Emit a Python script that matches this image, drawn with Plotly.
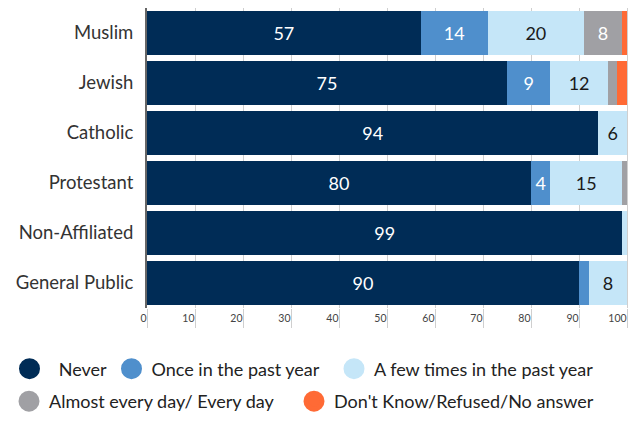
import plotly.graph_objects as go

categories = ["Muslim", "Jewish", "Catholic", "Protestant", "Non-Affiliated", "General Public"]
series_names = ["Never", "Once in the past year", "A few times in the past year",
                "Almost every day/ Every day", "Don't Know/Refused/No answer"]
never = [57, 75, 94, 80, 99, 90]
once = [14, 9, 0, 4, 0, 2]
few_times = [20, 12, 6, 15, 1, 8]
every_day = [8, 2, 0, 1, 0, 0]
dont_know = [1, 2, 0, 0, 0, 0]
x_ticks = [0, 10, 20, 30, 40, 50, 60, 70, 80, 90, 100]

series_values = [never, once, few_times, every_day, dont_know]
colors = ["#002C56", "#4F8FCC", "#C5E6F8", "#A0A0A4", "#FF6A35"]
text_colors = ["#FFFFFF", "#FFFFFF", "#1A1A1A", "#FFFFFF", "#FFFFFF"]

FONT = "Lato, 'Open Sans', sans-serif"

fig = go.Figure()
for name, vals, col, tcol in zip(series_names, series_values, colors, text_colors):
    fig.add_trace(go.Bar(
        y=categories, x=vals, orientation="h", name=name,
        marker=dict(color=col, line=dict(width=0)),
        text=[str(v) if v >= 4 else "" for v in vals],
        textposition="inside", insidetextanchor="middle", textangle=0,
        textfont=dict(family=FONT, size=18, color=tcol),
        showlegend=False, hoverinfo="skip",
    ))

# legend entries (circle markers), one legend per entry for precise placement
legend_ids = ["legend", "legend2", "legend3", "legend4", "legend5"]
legend_x_px = [9.5, 111.5, 334, 9, 294]
legend_y_px = [369, 369, 369, 401.5, 401.5]
legend_labels = ["\u00a0\u00a0" + series_names[0]] + series_names[1:]
for i, (label, col) in enumerate(zip(legend_labels, colors)):
    fig.add_trace(go.Scatter(
        x=[None], y=[None], mode="markers", name=label,
        marker=dict(color=col, size=16, symbol="circle", line=dict(color=col, width=5)),
        legend=legend_ids[i], showlegend=True, hoverinfo="skip",
    ))

W, H = 629, 423
layout_legends = {}
for i, lid in enumerate(legend_ids):
    layout_legends[lid] = dict(
        xref="container", yref="container",
        x=legend_x_px[i] / W, y=1 - legend_y_px[i] / H,
        xanchor="left", yanchor="middle",
        orientation="h", bgcolor="rgba(0,0,0,0)", borderwidth=0,
        font=dict(family=FONT, size=18, color="#222222"),
        itemsizing="trace",
    )

fig.update_layout(
    width=W, height=H,
    margin=dict(l=147, r=0, t=8, b=115, autoexpand=False),
    barmode="stack", bargap=0.12,
    plot_bgcolor="white", paper_bgcolor="white",
    font=dict(family=FONT, color="#333333"),
    uniformtext=dict(minsize=18, mode="show"),
    xaxis=dict(
        range=[0, 100.4], tickvals=x_ticks, ticktext=[str(t) for t in x_ticks],
        showgrid=True, gridcolor="#CFCFCF", gridwidth=1,
        ticks="outside", ticklen=19, tickcolor="#CFCFCF", tickwidth=1,
        ticklabelposition="outside left", ticklabelstandoff=0,
        tickfont=dict(family=FONT, size=10.5, color="#444444"),
        zeroline=False, showline=False, fixedrange=True, automargin=False,
    ),
    yaxis=dict(
        autorange="reversed", showgrid=False, zeroline=False,
        showline=True, linecolor="#666666", linewidth=2,
        ticks="", ticklabelstandoff=8,
        tickfont=dict(family=FONT, size=18.5, color="#333333"),
        fixedrange=True, automargin=False,
    ),
    **layout_legends,
)

fig.write_html("out.html", config={"displayModeBar": False},
               post_script="document.body.style.margin='0';")
